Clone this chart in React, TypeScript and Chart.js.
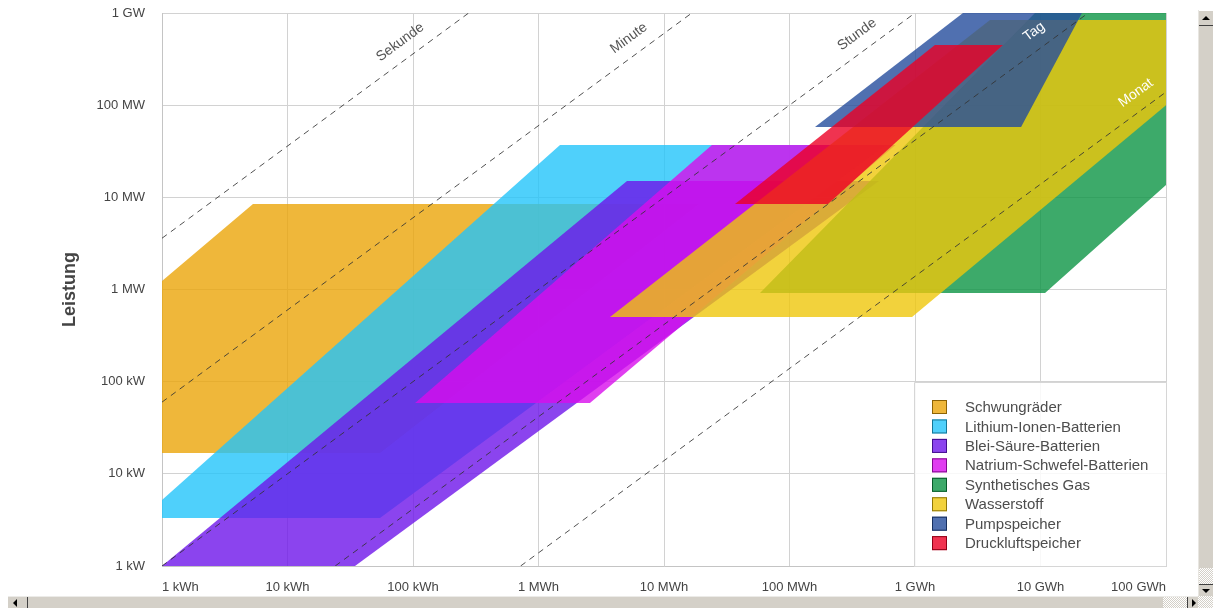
import React, { useEffect, useRef } from 'react';
import { Chart, registerables } from 'chart.js';

Chart.register(...registerables);

const FONT = '"Liberation Sans", Arial, Helvetica, sans-serif';

// Axis ticks (energy in kWh, power in kW)
const xTickValues = [1, 10, 100, 1e3, 1e4, 1e5, 1e6, 1e7, 1e8];
const xTickLabels = ['1 kWh', '10 kWh', '100 kWh', '1 MWh', '10 MWh', '100 MWh', '1 GWh', '10 GWh', '100 GWh'];
const yTickValues = [1, 10, 100, 1e3, 1e4, 1e5, 1e6];
const yTickLabels = ['1 kW', '10 kW', '100 kW', '1 MW', '10 MW', '100 MW', '1 GW'];

// Technologies (legend order = drawing order, later on top)
const techNames = [
  'Schwungräder',
  'Lithium-Ionen-Batterien',
  'Blei-Säure-Batterien',
  'Natrium-Schwefel-Batterien',
  'Synthetisches Gas',
  'Wasserstoff',
  'Pumpspeicher',
  'Druckluftspeicher',
];
const techColors = [
  '235,165,9',
  '35,196,250',
  '110,21,234',
  '216,14,236',
  '12,149,69',
  '239,199,11',
  '36,76,156',
  '236,0,36',
];

// Polygon vertices: energy (kWh) and power (kW)
const schwungE = [1, 54.6, 19000, 5.31, 1];
const schwungP = [16.8, 16.8, 8470, 8470, 1237];
const lithiumE = [1, 54.6, 587000, 1484, 1];
const lithiumP = [3.32, 3.32, 36980, 36980, 5.2];
const bleiE = [1, 34.5, 516000, 5070];
const bleiP = [1, 1, 15030, 15030];
const natriumE = [104, 2570, 700000, 24100];
const natriumP = [58.7, 58.7, 36980, 36980];
const gasE = [58200, 10870000, 1e8, 1e9, 1e9, 9040000];
const gasP = [916, 916, 13600, 222000, 1e6, 1e6];
const wasserstoffE = [3715, 947000, 6.5e8, 3960000];
const wasserstoffP = [503, 503, 839000, 839000];
const pumpE = [159600, 7000000, 21400000, 2410000];
const pumpP = [57900, 57900, 1e6, 1e6];
const druckE = [36800, 202800, 5020000, 1440000];
const druckP = [8470, 8470, 449500, 449500];

const techE = [schwungE, lithiumE, bleiE, natriumE, gasE, wasserstoffE, pumpE, druckE];
const techP = [schwungP, lithiumP, bleiP, natriumP, gasP, wasserstoffP, pumpP, druckP];

// Reference lines of constant discharge time (endpoints, kWh / kW)
const durationNames = ['Sekunde', 'Minute', 'Stunde', 'Tag', 'Monat'];
const sekundeLine = { e: [1, 1000], p: [3600, 3600000] };
const minuteLine = { e: [1, 100000], p: [60, 6000000] };
const stundeLine = { e: [1, 10000000], p: [1, 10000000] };
const tagLine = { e: [24, 1e8], p: [1, 4166667] };
const monatLine = { e: [720, 1e8], p: [1, 138889] };
const durationLines = [sekundeLine, minuteLine, stundeLine, tagLine, monatLine];
const durationLabelE = [95, 6320, 415000, 10700000, 69300000];
const durationLabelColors = ['#555', '#555', '#555', '#fff', '#fff'];

const overlayPlugin = {
  id: 'overlay',
  afterDatasetsDraw(chart: any) {
    const { ctx, scales } = chart;
    const xs = scales.x;
    const ys = scales.y;
    ctx.save();
    ctx.font = `14px ${FONT}`;
    ctx.textAlign = 'center';
    ctx.textBaseline = 'middle';
    durationLines.forEach((ln, i) => {
      const x1 = xs.getPixelForValue(ln.e[0]);
      const y1 = ys.getPixelForValue(ln.p[0]);
      const x2 = xs.getPixelForValue(ln.e[1]);
      const y2 = ys.getPixelForValue(ln.p[1]);
      const ang = Math.atan2(y2 - y1, x2 - x1);
      const lx = xs.getPixelForValue(durationLabelE[i]);
      const ly = y1 + ((lx - x1) * (y2 - y1)) / (x2 - x1);
      ctx.save();
      ctx.translate(lx, ly);
      ctx.rotate(ang);
      ctx.fillStyle = durationLabelColors[i];
      ctx.fillText(durationNames[i], 0, -17);
      ctx.restore();
    });
    ctx.restore();
  },
  afterDraw(chart: any) {
    const { ctx, chartArea, scales } = chart;
    const xs = scales.x;
    ctx.save();
    // x tick labels
    ctx.font = `13px ${FONT}`;
    ctx.fillStyle = '#444';
    ctx.textBaseline = 'middle';
    xTickValues.forEach((v, i) => {
      const px = xs.getPixelForValue(v);
      ctx.textAlign = i === 0 ? 'left' : i === xTickValues.length - 1 ? 'right' : 'center';
      ctx.fillText(xTickLabels[i], px, chartArea.bottom + 21);
    });
    // legend
    const w = 252;
    const h = 184;
    const lx = chartArea.right - w;
    const ly = chartArea.bottom - h;
    ctx.fillStyle = 'rgba(255,255,255,0.85)';
    ctx.strokeStyle = '#d6d6d6';
    ctx.lineWidth = 1;
    ctx.beginPath();
    ctx.rect(lx + 0.5, ly + 0.5, w, h);
    ctx.fill();
    ctx.stroke();
    ctx.font = `15px ${FONT}`;
    ctx.textAlign = 'left';
    ctx.textBaseline = 'middle';
    techNames.forEach((name, i) => {
      const cy = ly + 25 + i * 19.45;
      const c = techColors[i].split(',').map(Number);
      ctx.fillStyle = `rgba(${techColors[i]},0.8)`;
      ctx.fillRect(lx + 18, cy - 7, 15, 14);
      ctx.strokeStyle = `rgb(${Math.round(c[0] * 0.6)},${Math.round(c[1] * 0.6)},${Math.round(c[2] * 0.6)})`;
      ctx.strokeRect(lx + 18.5, cy - 6.5, 14, 13);
      ctx.fillStyle = '#4d4d4d';
      ctx.fillText(name, lx + 51, cy + 1);
    });
    ctx.restore();
  },
};

function buildConfig(): any {
  const datasets: any[] = [];
  techNames.forEach((name, i) => {
    const pts = techE[i].map((e, k) => ({ x: e, y: techP[i][k] }));
    pts.push({ x: techE[i][0], y: techP[i][0] });
    datasets.push({
      type: 'line',
      label: name,
      data: pts,
      fill: 'shape',
      backgroundColor: `rgba(${techColors[i]},0.8)`,
      borderColor: 'rgba(0,0,0,0)',
      borderWidth: 0,
      pointRadius: 0,
      tension: 0,
      order: 20 - i,
    });
  });
  durationLines.forEach((ln, i) => {
    datasets.push({
      type: 'line',
      label: durationNames[i],
      data: ln.e.map((e, k) => ({ x: e, y: ln.p[k] })),
      fill: false,
      borderColor: 'rgba(50,50,50,0.85)',
      borderWidth: 1,
      borderDash: [6, 5],
      pointRadius: 0,
      tension: 0,
      order: 0,
    });
  });
  const gridColor = '#d2d2d2';
  return {
    type: 'line',
    data: { datasets },
    options: {
      responsive: false,
      animation: false,
      events: [],
      layout: { padding: { left: 0, top: 13, right: 32, bottom: 0 } },
      plugins: { legend: { display: false }, tooltip: { enabled: false } },
      scales: {
        x: {
          type: 'logarithmic',
          min: 1,
          max: 1e8,
          position: 'bottom',
          afterBuildTicks: (s: any) => {
            s.ticks = xTickValues.map((v) => ({ value: v }));
          },
          ticks: { display: false },
          grid: { color: gridColor, drawTicks: false, lineWidth: 1 },
          border: { display: true, color: '#c4c4c4' },
          afterFit: (s: any) => {
            s.height = 30;
            s.paddingLeft = 0;
            s.paddingRight = 0;
          },
        },
        y: {
          type: 'logarithmic',
          min: 1,
          max: 1e6,
          afterBuildTicks: (s: any) => {
            s.ticks = yTickValues.map((v) => ({ value: v }));
          },
          ticks: {
            callback: (_v: any, i: number) => yTickLabels[i],
            font: { size: 13, family: FONT },
            color: '#444',
            padding: 17,
            autoSkip: false,
          },
          grid: { color: gridColor, drawTicks: false, lineWidth: 1 },
          border: { display: true, color: '#c4c4c4' },
          title: {
            display: true,
            text: 'Leistung',
            font: { size: 18, weight: 'bold', family: FONT },
            color: '#444',
            padding: { top: 59, bottom: 0 },
          },
          afterFit: (s: any) => {
            s.width = 162;
            s.paddingTop = 0;
            s.paddingBottom = 0;
          },
        },
      },
    },
    plugins: [overlayPlugin],
  };
}

const checker = 'repeating-conic-gradient(#ffffff 0% 25%, #d4d0c8 0% 50%) 0 0 / 2px 2px';

export default function App() {
  const ref = useRef<HTMLCanvasElement>(null);
  useEffect(() => {
    const chart = new Chart(ref.current as HTMLCanvasElement, buildConfig());
    return () => chart.destroy();
  }, []);
  const tri = (dir: string) => {
    const s: any = { width: 0, height: 0, position: 'absolute' };
    if (dir === 'up') Object.assign(s, { borderLeft: '4px solid transparent', borderRight: '4px solid transparent', borderBottom: '4px solid #000', left: 3, top: 5 });
    if (dir === 'down') Object.assign(s, { borderLeft: '4px solid transparent', borderRight: '4px solid transparent', borderTop: '4px solid #000', left: 3, top: 4 });
    if (dir === 'left') Object.assign(s, { borderTop: '4px solid transparent', borderBottom: '4px solid transparent', borderRight: '4px solid #000', left: 5, top: 2 });
    if (dir === 'right') Object.assign(s, { borderTop: '4px solid transparent', borderBottom: '4px solid transparent', borderLeft: '4px solid #000', left: 4, top: 2 });
    return <div style={s} />;
  };
  return (
    <div style={{ position: 'fixed', left: 0, top: 0, width: 1213, height: 608, overflow: 'hidden', background: '#fff' }}>
      <canvas ref={ref} width={1198} height={596} style={{ position: 'absolute', left: 0, top: 0, width: 1198, height: 596 }} />
      {/* vertical scrollbar */}
      <div style={{ position: 'absolute', left: 1198, top: 10, width: 15, height: 586, background: '#d4d0c8', borderLeft: '1px solid #e8e6e1', boxSizing: 'border-box' }}>
        <div style={{ position: 'absolute', left: 0, top: 0, width: 14, height: 16, borderTop: '1px solid #fff', borderBottom: '1px solid #404040', boxSizing: 'border-box' }}>{tri('up')}</div>
        <div style={{ position: 'absolute', left: 0, top: 558, width: 14, height: 16, background: checker }} />
        <div style={{ position: 'absolute', left: 0, top: 574, width: 14, height: 12, borderTop: '1px solid #404040', boxSizing: 'border-box' }}>{tri('down')}</div>
      </div>
      {/* horizontal scrollbar */}
      <div style={{ position: 'absolute', left: 8, top: 596, width: 1190, height: 12, background: '#d4d0c8', borderTop: '1px solid #ecebe8', boxSizing: 'border-box' }}>
        <div style={{ position: 'absolute', left: 0, top: 0, width: 20, height: 11, borderRight: '1px solid #404040', boxSizing: 'border-box' }}>{tri('left')}</div>
        <div style={{ position: 'absolute', left: 1155, top: 0, width: 24, height: 11, background: checker }} />
        <div style={{ position: 'absolute', left: 1179, top: 0, width: 11, height: 11, borderLeft: '1px solid #404040', boxSizing: 'border-box' }}>{tri('right')}</div>
      </div>
      <div style={{ position: 'absolute', left: 1198, top: 596, width: 15, height: 12, background: checker }} />
    </div>
  );
}
